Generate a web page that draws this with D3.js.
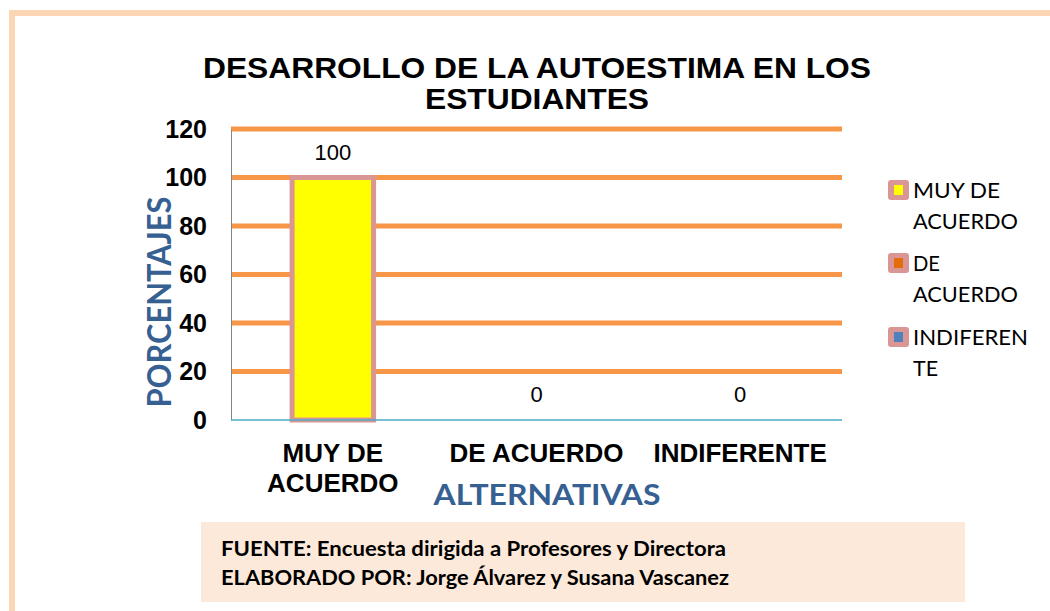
<!DOCTYPE html>
<html>
<head>
<meta charset="utf-8">
<script src="https://cdn.jsdelivr.net/npm/d3@7"></script>
<style>
  body { margin: 0; background: #fff; }
  svg { display: block; }
</style>
</head>
<body>
<div id="chart"></div>
<script>
// chart data
const categories = ["MUY DE ACUERDO", "DE ACUERDO", "INDIFERENTE"];
const categoryLines = [["MUY DE", "ACUERDO"], ["DE ACUERDO"], ["INDIFERENTE"]];
const values = [100, 0, 0];
const yTicks = [0, 20, 40, 60, 80, 100, 120];
const legendLines = [["MUY DE", "ACUERDO"], ["DE", "ACUERDO"], ["INDIFEREN", "TE"]];
const legendColors = ["#ffff00", "#e46c0a", "#4f81bd"];
const titleLines = ["DESARROLLO DE LA AUTOESTIMA EN LOS", "ESTUDIANTES"];
const footerLines = [
  ["FUENTE:", " Encuesta dirigida a Profesores y Directora"],
  ["ELABORADO POR:", " Jorge Álvarez y Susana Vascanez"]
];

// setup canvas
const width = 1050, height = 611;
const svg = d3.select("#chart").append("svg")
  .attr("width", width)
  .attr("height", height);

// page frame (top and left edge only visible)
svg.append("rect").attr("x", 9).attr("y", 10).attr("width", 6).attr("height", height - 10).attr("fill", "#fcd5b4");
svg.append("rect").attr("x", 9).attr("y", 10).attr("width", width - 9).attr("height", 6).attr("fill", "#fcd5b4");

// plot area
const plot = { left: 231, right: 842, top: 129, bottom: 420 };

const x = d3.scaleBand()
  .domain(categories)
  .range([plot.left, plot.right])
  .paddingInner(0.6)
  .paddingOuter(0.3);

const y = d3.scaleLinear()
  .domain([0, 120])
  .range([plot.bottom, plot.top]);

// title
svg.append("g").selectAll("text")
  .data(titleLines)
  .enter().append("text")
    .attr("x", 537)
    .attr("y", (d, i) => 78 + i * 31)
    .attr("text-anchor", "middle")
    .attr("font-family", "Liberation Sans, Arial, sans-serif")
    .attr("font-weight", "bold")
    .attr("font-size", 30)
    .attr("textLength", (d, i) => i === 0 ? 668 : 224)
    .attr("lengthAdjust", "spacingAndGlyphs")
    .attr("fill", "#000")
    .text(d => d);

// gridlines
svg.append("g")
  .selectAll("line")
  .data(yTicks.filter(t => t > 0))
  .enter().append("line")
    .attr("x1", plot.left)
    .attr("x2", plot.right)
    .attr("y1", d => y(d))
    .attr("y2", d => y(d))
    .attr("stroke", "#f79646")
    .attr("stroke-width", 5);

// y axis
const yAxis = svg.append("g")
  .attr("transform", `translate(${plot.left},0)`)
  .call(d3.axisLeft(y).tickValues(yTicks).tickSize(0).tickPadding(24));
yAxis.select(".domain")
  .attr("stroke", "#868686")
  .attr("stroke-width", 1);
yAxis.selectAll("text")
  .attr("font-family", "Liberation Sans, Arial, sans-serif")
  .attr("font-weight", "bold")
  .attr("font-size", 25)
  .attr("fill", "#000");

// bars
svg.append("g")
  .selectAll("rect")
  .data(values)
  .enter().append("rect")
    .attr("x", (d, i) => x(categories[i]))
    .attr("y", d => y(d))
    .attr("width", x.bandwidth())
    .attr("height", d => y(0) - y(d))
    .attr("fill", "#ffff00")
    .attr("stroke", "#d99694")
    .attr("stroke-width", d => d > 0 ? 5 : 0);

// baseline
svg.append("line")
  .attr("x1", plot.left).attr("x2", plot.right)
  .attr("y1", y(0)).attr("y2", y(0))
  .attr("stroke", "#4bacc6")
  .attr("stroke-width", 1.5);

// data labels
svg.append("g")
  .selectAll("text")
  .data(values)
  .enter().append("text")
    .attr("x", (d, i) => x(categories[i]) + x.bandwidth() / 2)
    .attr("y", d => y(d) - 18)
    .attr("text-anchor", "middle")
    .attr("font-family", "Liberation Sans, Arial, sans-serif")
    .attr("font-size", 22)
    .attr("fill", "#000")
    .text(d => d);

// category labels
const catG = svg.append("g");
categoryLines.forEach((lines, i) => {
  catG.append("text")
    .attr("text-anchor", "middle")
    .attr("font-family", "Liberation Sans, Arial, sans-serif")
    .attr("font-weight", "bold")
    .attr("font-size", 26)
    .attr("fill", "#000")
    .selectAll("tspan")
    .data(lines)
    .enter().append("tspan")
      .attr("x", x(categories[i]) + x.bandwidth() / 2)
      .attr("y", (d, j) => 462 + j * 30)
      .text(d => d);
});

// axis titles
svg.append("text")
  .attr("x", 547)
  .attr("y", 505)
  .attr("text-anchor", "middle")
  .attr("font-family", "Lato, sans-serif")
  .attr("font-weight", "bold")
  .attr("font-size", 29)
  .attr("textLength", 227)
  .attr("lengthAdjust", "spacingAndGlyphs")
  .attr("fill", "#376092")
  .text("ALTERNATIVAS");

svg.append("text")
  .attr("transform", "translate(171,302) rotate(-90)")
  .attr("text-anchor", "middle")
  .attr("font-family", "Lato, sans-serif")
  .attr("font-weight", "bold")
  .attr("font-size", 33)
  .attr("textLength", 211)
  .attr("lengthAdjust", "spacingAndGlyphs")
  .attr("fill", "#376092")
  .text("PORCENTAJES");

// legend
const legendY = [190, 263, 337];
const legendWidths = [[87, 105], [27, 105], [115, 25]];
const legend = svg.append("g")
  .selectAll("g")
  .data(legendLines)
  .enter().append("g")
    .attr("transform", (d, i) => `translate(888,${legendY[i]})`);

legend.append("rect")
  .attr("x", 0).attr("y", -10)
  .attr("width", 21).attr("height", 20)
  .attr("rx", 3)
  .attr("fill", "#d99694");
legend.append("rect")
  .attr("x", 6).attr("y", -5)
  .attr("width", 9).attr("height", 10)
  .attr("fill", (d, i) => legendColors[i]);
legend.each(function(lines, i) {
  d3.select(this).selectAll("text")
    .data(lines)
    .enter().append("text")
      .attr("x", 25)
      .attr("y", (d, j) => 8 + j * 31)
      .attr("font-family", "Lato, sans-serif")
      .attr("font-size", 22)
      .attr("textLength", (d, j) => legendWidths[i][j])
      .attr("lengthAdjust", "spacingAndGlyphs")
      .attr("fill", "#000")
      .text(d => d);
});

// footer box
svg.append("rect")
  .attr("x", 201).attr("y", 522)
  .attr("width", 764).attr("height", 80)
  .attr("fill", "#fde9d9");

svg.append("g")
  .selectAll("text")
  .data(footerLines)
  .enter().append("text")
    .attr("x", 221)
    .attr("y", (d, i) => 556 + i * 29)
    .attr("font-family", "Lato, sans-serif")
    .attr("font-weight", "bold")
    .attr("font-size", 20)
    .attr("textLength", (d, i) => i === 0 ? 505 : 508)
    .attr("lengthAdjust", "spacingAndGlyphs")
    .attr("fill", "#000")
    .text(d => d[0] + d[1]);
</script>
</body>
</html>
